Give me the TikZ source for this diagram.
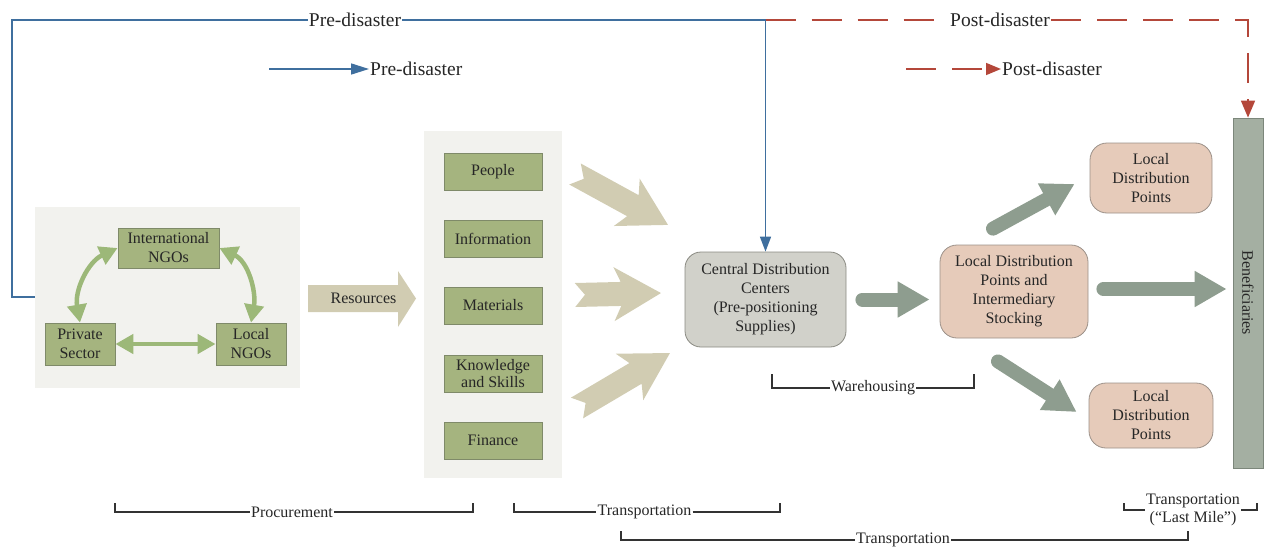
\documentclass[tikz,border=0pt]{standalone}
\usepackage{fontspec}
\setmainfont{Liberation Serif}
\usetikzlibrary{arrows.meta,positioning,calc}
\definecolor{panelgray}{HTML}{F2F2EE}
\definecolor{stakegreen}{HTML}{A5B47F}
\definecolor{stakeline}{HTML}{7F8A69}
\definecolor{linkgreen}{HTML}{9CB878}
\definecolor{restan}{HTML}{D1CCB2}
\definecolor{cdcgray}{HTML}{D1D1CA}
\definecolor{cdcline}{HTML}{8A8A82}
\definecolor{ldpsalmon}{HTML}{E6CBBA}
\definecolor{ldpline}{HTML}{9B9088}
\definecolor{flowgreen}{HTML}{8E9D8F}
\definecolor{benefgray}{HTML}{A4AFA2}
\definecolor{benefline}{HTML}{7C877B}
\definecolor{preblue}{HTML}{3F6F9E}
\definecolor{postred}{HTML}{B4473A}
\definecolor{brackgray}{HTML}{333333}
\newcommand{\notcharrow}[3]{%
    \fill[restan,shift={#1},rotate=#2] (0,12) -- (#3-40,12) -- (#3-47,27) -- (#3,0)
        -- (#3-47,-27) -- (#3-40,-12) -- (0,-12) -- (10,0) -- cycle;}
\tikzset{
    txt/.style={font=\fontsize{16}{19}\selectfont,text=black!85},
    biglabel/.style={font=\fontsize{19.5}{22}\selectfont,text=black!85,inner sep=1pt},
    panel/.style={fill=panelgray,inner sep=0pt},
    stake/.style={txt,draw=stakeline,fill=stakegreen,align=center,inner sep=1pt,line width=0.8pt},
    cdcbox/.style={txt,draw=cdcline,fill=cdcgray,align=center,rounded corners=16pt,line width=0.8pt},
    ldpbox/.style={txt,draw=ldpline,fill=ldpsalmon,align=center,rounded corners=17pt,line width=0.8pt},
    link/.style={linkgreen,line width=4.5pt,{Triangle[length=18pt,width=19pt]}-{Triangle[length=18pt,width=19pt]}},
    flow/.style={flowgreen,line width=14pt,line cap=round,-{Triangle[length=32pt,width=34pt]}},
    preline/.style={preblue,line width=1.6pt},
    postline/.style={postred,line width=1.6pt,dash pattern=on 30pt off 16pt},
    bracket/.style={brackgray,line width=1.5pt},
    brlabel/.style={txt,inner sep=1pt},
}
\begin{document}
\begin{tikzpicture}[x=1pt,y=-1pt]
    \useasboundingbox (0,0) rectangle (1265,546);

    % background panels
    \node[panel,minimum width=265,minimum height=181] (stakepanel) at (167.5,297.5) {};
    \node[panel,minimum width=138,minimum height=347] (respanel) at (493,304.5) {};

    % stakeholders
    \node[stake,minimum width=101,minimum height=40] (intl) at (168.5,248) {International\\NGOs};
    \node[stake,minimum width=70,minimum height=42] (priv) at (80,344) {Private\\Sector};
    \node[stake,minimum width=70,minimum height=42] (lngo) at (251,344) {Local\\NGOs};
    \draw[link] (priv.north) to[out=100,in=205] (intl.west);
    \draw[link] (intl.east) to[out=-25,in=80] (lngo.north);
    \draw[link] (priv.east) -- (lngo.west);

    % resources
    \fill[restan] (308,285) -- (398,285) -- (398,271) -- (416,298.5) -- (398,327) -- (398,312) -- (308,312) -- cycle;
    \node[txt] (res) at (363.5,298.5) {Resources};
    \foreach \name/\label/\y in {people/People/171.5,info/Information/238.5,mat/Materials/305.5,know/{Knowledge\\and Skills}/373.5,fin/Finance/440.5}
        \node[stake,minimum width=98,minimum height=37,font=\fontsize{16}{17.5}\selectfont] (\name) at (493,\y) {\label};
    \notcharrow{(575,174)}{-28.7}{106}
    \notcharrow{(575,295)}{1.3}{86}
    \notcharrow{(577,408)}{30.6}{108}

    % distribution
    \node[cdcbox,minimum width=161,minimum height=95] (cdc) at (765.5,299.5) {Central Distribution\\Centers\\(Pre-positioning\\Supplies)};
    \node[ldpbox,minimum width=148,minimum height=93] (ldpmid) at (1014,291.5) {Local Distribution\\Points and\\Intermediary\\Stocking};
    \node[ldpbox,minimum width=122,minimum height=70] (ldptop) at (1151,178) {Local\\Distribution\\Points};
    \node[ldpbox,minimum width=124,minimum height=65] (ldpbot) at (1151,415.5) {Local\\Distribution\\Points};
    \node[txt,draw=benefline,fill=benefgray,line width=0.8pt,rotate=-90,minimum width=350,minimum height=30,inner sep=0pt] (benef) at (1248,293) {Beneficiaries};

    \draw[flow,shorten <=16pt,shorten >=10pt] (cdc.east) -- (cdc.east -| ldpmid.west);
    \draw[flow] ($(ldpmid.north)+(-21,-16)$) -- ($(ldptop.west)+(-15,6)$);
    \draw[flow] ($(ldpmid.south)+(-16,23)$) -- ($(ldpbot.west)+(-12,-3.5)$);
    \draw[flow,shorten <=15pt,shorten >=6pt] (ldpmid.east |- 0,289) -- (benef.south |- 0,289);

    % pre and post disaster flows
    \node[biglabel,fill=white] (pre) at (355,20) {Pre-disaster};
    \node[biglabel,fill=white] (post) at (1000,20) {Post-disaster};
    \draw[preline] (stakepanel.west |- 0,297) -- (12,297) |- (pre.west);
    \draw[preline,-{Triangle[length=15pt,width=11pt]}] (pre.east) -| (cdc.north);
    \draw[postline] (cdc.north |- pre.east) -- (post.west);
    \draw[postline,-{Triangle[length=17pt,width=14pt]}] (post.east) -| (benef.west);

    % legend
    \node[biglabel,anchor=west] (prekey) at (369,69) {Pre-disaster};
    \node[biglabel,anchor=west] (postkey) at (1001,69) {Post-disaster};
    \draw[preline,-{Triangle[length=18pt,width=11pt]}] (269,69) -- (prekey.west);
    \draw[postline,-{Triangle[length=15pt,width=12pt]}] (906,69) -- (postkey.west);

    % phases
    \node[brlabel] (procl) at (292,512) {Procurement};
    \draw[bracket] (115,503) |- (procl.west);
    \draw[bracket] (procl.east) -| (473,503);
    \node[brlabel] (transl) at (644.5,512) {Transportation};
    \draw[bracket] (514,503) |- (transl.west);
    \draw[bracket] (transl.east) -| (780,503);
    \node[brlabel] (warel) at (873,388) {Warehousing};
    \draw[bracket] (772,374) |- (warel.west);
    \draw[bracket] (warel.east) -| (974,374);
    \node[brlabel] (transall) at (903,540) {Transportation};
    \draw[bracket] (621,531) |- (transall.west);
    \draw[bracket] (transall.east) -| (1188,531);
    \node[brlabel,align=center,font=\fontsize{16}{18}\selectfont] (lastmile) at (1193,510) {Transportation\\(“Last Mile”)};
    \draw[bracket] (1124,503) |- (lastmile.west);
    \draw[bracket] (lastmile.east) -| (1257,503);
\end{tikzpicture}
\end{document}
